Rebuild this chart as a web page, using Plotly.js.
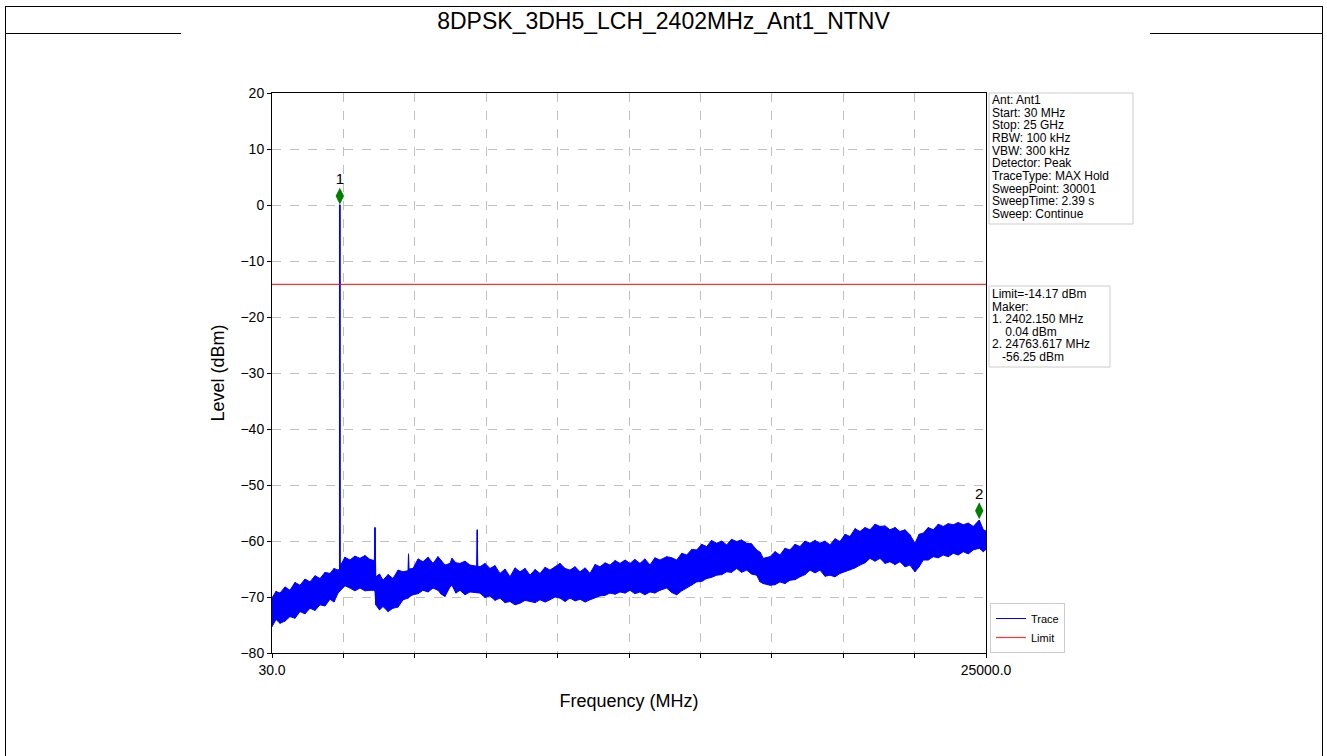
<!DOCTYPE html>
<html>
<head>
<meta charset="utf-8">
<script src="https://cdn.plot.ly/plotly-3.0.1.min.js"></script>
<style>
  html, body { margin: 0; padding: 0; background: #fff; }
  #wrap { position: relative; width: 1327px; height: 756px; }
  #chart { position: absolute; left: 0; top: 0; width: 1327px; height: 756px; }
  .ln { position: absolute; background: #000; pointer-events: none; }
</style>
</head>
<body>
<div id="wrap">
  <div id="chart"></div>
  <div class="ln" style="left:5px;top:6px;width:1318px;height:1px;"></div>
  <div class="ln" style="left:5px;top:6px;width:1px;height:750px;"></div>
  <div class="ln" style="left:1322px;top:6px;width:1px;height:750px;"></div>
  <div class="ln" style="left:5px;top:33px;width:176px;height:1px;"></div>
  <div class="ln" style="left:1150px;top:33px;width:173px;height:1px;"></div>
</div>
<script>
// ---- data (MHz, dBm) ----
const freq = [30, 170, 310, 485, 659, 834, 1009, 1184, 1359, 1534, 1709, 1884, 2058, 2200, 2338, 2395, 2402, 2410,
  2580, 2758, 2930, 3107, 3280, 3457, 3610, 3632, 3660, 3790, 3912, 4090, 4261, 4440, 4611, 4790, 4804, 4820,
  4961, 5140, 5310, 5490, 5660, 5835, 5950, 6080, 6255, 6325, 6460, 6604, 6780, 6954, 7190, 7209, 7225, 7304,
  7480, 7653, 7830, 8003, 8180, 8353, 8530, 8703, 8880, 9052, 9230, 9402, 9580, 9752, 9930, 10101, 10280, 10451,
  10630, 10801, 10980, 11150, 11330, 11500, 11680, 11850, 12030, 12200, 12380, 12549, 12720, 12899, 13070, 13249,
  13420, 13598, 13833, 14010, 14182, 14360, 14532, 14710, 14882, 15060, 15232, 15400, 15581, 15760, 15931, 16100,
  16281, 16450, 16631, 16800, 16980, 17100, 17211, 17445, 17620, 17795, 17970, 18144, 18320, 18494, 18670, 18844,
  19020, 19194, 19370, 19543, 19720, 19893, 20070, 20243, 20420, 20592, 20770, 20942, 21120, 21292, 21470, 21641,
  21820, 21991, 22170, 22341, 22516, 22660, 22806, 22980, 23156, 23330, 23506, 23680, 23855, 24030, 24205, 24380,
  24555, 24764, 24905, 25000];
const upperLevel = [-70.2, -69.0, -69.3, -68.2, -68.8, -67.4, -67.9, -66.8, -67.3, -66.2, -66.7, -65.6, -65.8, -64.9, -65.2, -65.0, 0.04, -64.5,
  -62.9, -63.4, -62.7, -63.1, -62.6, -63.3, -63.5, -57.6, -66.4, -65.9, -67.0, -66.0, -66.7, -65.2, -65.5, -65.3, -62.3, -65.0,
  -64.9, -63.2, -63.7, -62.9, -64.0, -62.8, -63.5, -64.3, -64.0, -63.1, -63.9, -64.0, -63.6, -64.3, -64.5, -58.0, -64.5, -64.6,
  -64.0, -64.9, -64.4, -65.8, -65.0, -66.4, -64.8, -65.5, -64.9, -66.1, -65.1, -65.8, -64.7, -65.2, -64.6, -64.0, -64.9, -65.2,
  -64.6, -65.5, -64.8, -65.8, -64.2, -64.6, -63.9, -64.3, -63.5, -64.0, -63.4, -64.0, -63.3, -64.0, -63.2, -64.3,
  -63.0, -63.4, -62.8, -63.0, -63.4, -62.2, -62.5, -61.5, -61.6, -60.6, -61.0, -59.9, -60.4, -60.0, -60.7, -59.7,
  -60.1, -59.8, -60.4, -60.5, -61.6, -62.0, -63.1, -62.8, -61.9, -62.5, -61.3, -61.6, -60.6, -61.0, -60.0, -60.4,
  -59.9, -60.4, -60.0, -60.7, -59.6, -60.1, -58.8, -59.2, -57.8, -58.3, -57.6, -58.0, -57.0, -57.4, -57.3, -58.0,
  -57.6, -58.3, -58.0, -58.9, -60.4, -58.8, -58.6, -57.6, -58.0, -57.0, -57.4, -56.9, -57.1, -56.7, -57.1, -56.8,
  -57.4, -56.25, -58.0, -58.2];
const lowerLevel = [-75.3, -74.0, -74.7, -74.3, -73.5, -73.8, -72.6, -73.0, -72.0, -72.4, -71.4, -71.6, -70.4, -70.9, -69.3, -69.0, -69.0, -68.8,
  -68.0, -68.4, -68.9, -68.4, -68.9, -68.8, -68.8, -69.0, -71.4, -72.3, -71.7, -72.6, -72.0, -71.8, -70.5, -70.2, -70.2, -70.0,
  -69.6, -69.4, -68.8, -69.1, -68.4, -68.8, -69.5, -69.9, -68.2, -67.9, -69.3, -68.8, -69.6, -69.1, -69.2, -69.2, -69.2, -69.3,
  -70.1, -69.8, -70.6, -70.2, -71.0, -70.8, -71.4, -71.1, -70.6, -70.8, -71.0, -70.5, -70.9, -70.5, -70.0, -70.2, -70.8, -70.2,
  -70.7, -70.4, -70.9, -70.5, -70.1, -69.8, -69.7, -69.3, -69.5, -69.1, -69.3, -68.8, -69.4, -69.1, -69.6, -69.1,
  -69.3, -68.8, -68.4, -69.2, -69.6, -68.9, -68.4, -67.9, -67.3, -67.2, -66.7, -66.5, -66.1, -66.0, -65.5, -65.6,
  -64.9, -65.6, -65.2, -65.9, -66.1, -67.3, -67.6, -67.9, -67.8, -67.3, -67.6, -67.0, -66.9, -66.4, -66.0, -65.2,
  -65.7, -65.2, -66.3, -66.1, -66.4, -65.8, -65.5, -65.2, -64.8, -64.3, -63.9, -63.1, -63.6, -63.1, -64.0, -63.7,
  -64.2, -63.7, -64.6, -64.3, -65.5, -64.6, -63.4, -63.4, -62.8, -63.0, -62.5, -62.8, -62.2, -62.5, -61.9, -62.3,
  -61.6, -61.3, -61.9, -61.5];

const limitFreq = [30, 25000];
const limitLevel = [-14.17, -14.17];

const markerFreq = [2402.150, 24763.617];
const markerLevel = [1.6, -54.6];
const markerLabel = ["1", "2"];

const xRange = [30, 25000];
const yRange = [-80, 20];
const xTickText = ["30.0", "", "", "", "", "", "", "", "", "", "25000.0"];
const yTicks = [-80, -70, -60, -50, -40, -30, -20, -10, 0, 10, 20];

const titleText = "8DPSK_3DH5_LCH_2402MHz_Ant1_NTNV";
const infoLines = ["Ant: Ant1", "Start: 30 MHz", "Stop: 25 GHz", "RBW: 100 kHz", "VBW: 300 kHz",
  "Detector: Peak", "TraceType: MAX Hold", "SweepPoint: 30001", "SweepTime: 2.39 s", "Sweep: Continue"];
const limitLines = ["Limit=-14.17 dBm", "Maker:", "1. 2402.150 MHz", "\u00a0\u00a0\u00a0\u00a00.04 dBm",
  "2. 24763.617 MHz", "\u00a0\u00a0\u00a0-56.25 dBm"];

// ---- layout geometry (pixels) ----
const W = 1327, H = 756;
const PL = 272, PR = 986, PT = 93, PB = 653;
const px2x = p => (p - PL) / (PR - PL);
const py2y = p => (PB - p) / (PB - PT);

// zig-zag trace built from the envelopes
const zzX = [], zzY = [];
for (let i = 0; i < freq.length; i++) {
  zzX.push(freq[i], freq[i]);
  zzY.push(lowerLevel[i], upperLevel[i]);
}

const nT = 10;
const xTicks = [];
for (let k = 0; k <= nT; k++) xTicks.push(xRange[0] + (xRange[1] - xRange[0]) * k / nT);

const FONT = "Liberation Sans, Arial, sans-serif";

const traces = [
  { x: freq, y: lowerLevel, type: 'scatter', mode: 'lines', line: { color: '#0000ff', width: 1 },
    showlegend: false, hoverinfo: 'skip' },
  { x: freq, y: upperLevel, type: 'scatter', mode: 'lines', line: { color: '#0000ff', width: 1 },
    fill: 'tonexty', fillcolor: '#0000ff', showlegend: false, hoverinfo: 'skip' },
  { x: zzX, y: zzY, type: 'scatter', mode: 'lines', name: 'Trace', line: { color: '#0000ff', width: 1 } },
  { x: limitFreq, y: limitLevel, type: 'scatter', mode: 'lines', name: 'Limit', line: { color: '#ff0000', width: 1.2 }, opacity: 0.8 },
  { x: markerFreq, y: markerLevel, type: 'scatter', mode: 'markers+text', text: markerLabel,
    textposition: 'top center', textfont: { family: FONT, size: 15, color: '#000' },
    marker: { symbol: 'diamond-tall', size: 12, color: '#008000' }, showlegend: false, cliponaxis: false }
];

const annotations = [];
const infoTop = 100, infoStep = 12.65;
infoLines.forEach((t, i) => annotations.push({
  text: t, xref: 'paper', yref: 'paper', x: px2x(991), y: py2y(infoTop + i * infoStep),
  xanchor: 'left', yanchor: 'middle', showarrow: false, borderpad: 0,
  font: { family: FONT, size: 12, color: '#000' }
}));
const limTop = 294, limStep = 12.6;
limitLines.forEach((t, i) => annotations.push({
  text: t, xref: 'paper', yref: 'paper', x: px2x(991), y: py2y(limTop + i * limStep),
  xanchor: 'left', yanchor: 'middle', showarrow: false, borderpad: 0,
  font: { family: FONT, size: 12, color: '#000' }
}));

const shapes = [
  { type: 'rect', xref: 'paper', yref: 'paper', x0: px2x(989), x1: px2x(1133), y0: py2y(224), y1: py2y(93),
    line: { color: '#cccccc', width: 1 }, fillcolor: 'rgba(255,255,255,0.8)', layer: 'below' },
  { type: 'rect', xref: 'paper', yref: 'paper', x0: px2x(989), x1: px2x(1110), y0: py2y(367), y1: py2y(286),
    line: { color: '#cccccc', width: 1 }, fillcolor: 'rgba(255,255,255,0.8)', layer: 'below' }
];

const layout = {
  width: W, height: H,
  margin: { l: PL, r: W - PR, t: PT, b: H - PB },
  paper_bgcolor: '#fff', plot_bgcolor: '#fff',
  font: { family: FONT, color: '#000' },
  title: { text: titleText, xref: 'container', yref: 'container', x: 0.5, y: 1 - 21 / H,
    xanchor: 'center', yanchor: 'middle', font: { family: FONT, size: 23, color: '#000' } },
  xaxis: {
    range: xRange, tickmode: 'array', tickvals: xTicks, ticktext: xTickText,
    showgrid: true, gridcolor: '#b0b0b0', griddash: 'dash', gridwidth: 0.8,
    showline: true, linecolor: '#000', linewidth: 1, mirror: true,
    ticks: 'outside', ticklen: 4, tickcolor: '#000', tickfont: { size: 14 },
    zeroline: false,
    title: { text: 'Frequency (MHz)', font: { size: 18 }, standoff: 17 }
  },
  yaxis: {
    range: yRange, tickmode: 'array', tickvals: yTicks,
    showgrid: true, gridcolor: '#b0b0b0', griddash: 'dash', gridwidth: 0.8,
    showline: true, linecolor: '#000', linewidth: 1, mirror: true,
    ticks: 'outside', ticklen: 4, tickcolor: '#000', tickfont: { size: 14 },
    zeroline: false,
    title: { text: 'Level (dBm)', font: { size: 18 }, standoff: 11 }
  },
  legend: {
    x: px2x(990), y: 0, xanchor: 'left', yanchor: 'bottom', xref: 'paper', yref: 'paper',
    bordercolor: '#cccccc', borderwidth: 1, bgcolor: '#fff', traceorder: 'normal',
    font: { family: FONT, size: 11, color: '#000' }, tracegroupgap: 0, itemwidth: 30
  },
  annotations: annotations,
  shapes: shapes
};

Plotly.newPlot('chart', traces, layout, { displayModeBar: false, staticPlot: true });
</script>
</body>
</html>
